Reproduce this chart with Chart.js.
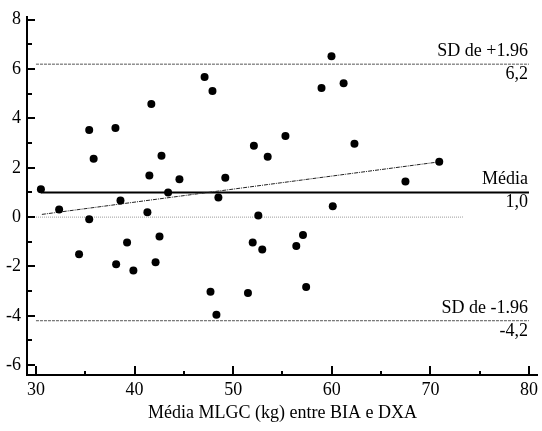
<!DOCTYPE html>
<html>
<head>
<meta charset="utf-8">
<title>Bland-Altman MLGC</title>
<script src="https://cdn.jsdelivr.net/npm/chart.js@4.4.0/dist/chart.umd.min.js"></script>
<style>
  html, body { margin: 0; padding: 0; background: #fff; }
  #wrap { width: 542px; height: 431px; position: relative; }
</style>
</head>
<body>
<div id="wrap"><canvas id="baChart"></canvas></div>
<script>
// media entre BIA e DXA (x) e diferenca (y)
const meanValues = [30.5, 32.35, 35.4, 35.85, 38.06, 41.7, 42.73, 41.5, 43.4, 38.57, 41.3, 35.4, 44.55,
  34.37, 39.24, 38.13, 39.88, 42.13, 42.53, 47.1, 47.9, 59.97, 58.96, 61.2, 55.3, 52.1, 53.5, 62.3,
  49.2, 48.5, 60.1, 52.55, 51.98, 52.95, 57.08, 56.4, 47.7, 51.5, 57.4, 48.3, 70.9, 67.47];
const diffValues = [1.13, 0.31, 3.53, 2.37, 3.61, 4.59, 2.49, 1.69, 1.0, 0.67, 0.2, -0.09, 1.53,
  -1.51, -1.03, -1.91, -2.16, -1.83, -0.79, 5.68, 5.11, 6.52, 5.23, 5.43, 3.29, 2.89, 2.45, 2.97,
  1.6, 0.8, 0.44, 0.07, -1.03, -1.31, -0.73, -1.17, -3.03, -3.08, -2.83, -3.96, 2.24, 1.44];

const xTicks = [30, 40, 50, 60, 70, 80];
const xMinorTicks = [35, 45, 55, 65, 75];
const yTicks = [-6, -4, -2, 0, 2, 4, 6, 8];
const yMinorTicks = [-5, -3, -1, 1, 3, 5, 7];

const meanDiff = 1.0;
const upperLimit = 6.2;
const lowerLimit = -4.2;
const limitRange = [30, 80];
const meanRange = [30.5, 80];
const zeroRange = [30, 73.3];
const regressionX = [30.6, 70.9];
const regressionY = [0.11, 2.24];

const upperLabels = ['SD de +1.96', '6,2'];
const meanLabels = ['Média', '1,0'];
const lowerLabels = ['SD de -1.96', '-4,2'];
const xTitle = 'Média MLGC (kg) entre BIA e DXA';

const serif = '"Liberation Serif", "Times New Roman", serif';

function hLine(value, range) {
  return range.map(x => ({ x: x, y: value }));
}

// ticks para dentro, como no original
const innerTicks = {
  id: 'innerTicks',
  afterDraw(chart) {
    const { ctx, chartArea } = chart;
    const xs = chart.scales.x;
    const ys = chart.scales.y;
    ctx.save();
    ctx.strokeStyle = '#000';
    ctx.lineWidth = 2;
    ctx.beginPath();
    yTicks.forEach(v => {
      const py = Math.round(ys.getPixelForValue(v));
      ctx.moveTo(chartArea.left, py);
      ctx.lineTo(chartArea.left + 8, py);
    });
    yMinorTicks.forEach(v => {
      const py = Math.round(ys.getPixelForValue(v));
      ctx.moveTo(chartArea.left, py);
      ctx.lineTo(chartArea.left + 5, py);
    });
    xTicks.forEach(v => {
      const px = Math.round(xs.getPixelForValue(v));
      ctx.moveTo(px, chartArea.bottom);
      ctx.lineTo(px, chartArea.bottom - 9);
    });
    xMinorTicks.forEach(v => {
      const px = Math.round(xs.getPixelForValue(v));
      ctx.moveTo(px, chartArea.bottom);
      ctx.lineTo(px, chartArea.bottom - 4);
    });
    ctx.stroke();

    // rotulos das linhas de referencia
    ctx.fillStyle = '#000';
    ctx.font = '18px ' + serif;
    ctx.textAlign = 'right';
    ctx.textBaseline = 'alphabetic';
    const tx = xs.getPixelForValue(80) - 1;
    [[upperLimit, upperLabels], [meanDiff, meanLabels], [lowerLimit, lowerLabels]].forEach(([v, txt]) => {
      const py = ys.getPixelForValue(v);
      ctx.fillText(txt[0], tx, py - 8);
      ctx.fillText(txt[1], tx, py + 15);
    });
    ctx.restore();
  }
};

Chart.defaults.color = '#000';
Chart.defaults.font.family = serif;
Chart.defaults.font.size = 18;

const ctx = document.getElementById('baChart').getContext('2d');
new Chart(ctx, {
  type: 'scatter',
  data: {
    datasets: [
      {
        label: 'zero',
        type: 'line',
        data: hLine(0, zeroRange),
        borderColor: '#9a9a9a',
        borderWidth: 1,
        borderDash: [1, 1],
        pointRadius: 0,
        order: 5
      },
      {
        label: 'SD +1.96',
        type: 'line',
        data: hLine(upperLimit, limitRange),
        borderColor: '#555',
        borderWidth: 1,
        borderDash: [3, 1],
        pointRadius: 0,
        order: 4
      },
      {
        label: 'SD -1.96',
        type: 'line',
        data: hLine(lowerLimit, limitRange),
        borderColor: '#555',
        borderWidth: 1,
        borderDash: [3, 1],
        pointRadius: 0,
        order: 4
      },
      {
        label: 'Média',
        type: 'line',
        data: hLine(meanDiff, meanRange),
        borderColor: '#000',
        borderWidth: 2,
        pointRadius: 0,
        order: 3
      },
      {
        label: 'regressão',
        type: 'line',
        data: regressionX.map((x, i) => ({ x: x, y: regressionY[i] })),
        borderColor: '#222',
        borderWidth: 1,
        borderDash: [4, 1, 1, 1],
        pointRadius: 0,
        order: 2
      },
      {
        label: 'diferença',
        data: meanValues.map((x, i) => ({ x: x, y: diffValues[i] })),
        backgroundColor: '#000',
        borderColor: '#000',
        borderWidth: 0,
        pointRadius: 4,
        order: 1
      }
    ]
  },
  options: {
    responsive: true,
    maintainAspectRatio: false,
    animation: false,
    events: [],
    layout: {
      autoPadding: false,
      padding: { top: 12, right: 1, left: 0, bottom: 0 }
    },
    plugins: {
      legend: { display: false },
      tooltip: { enabled: false }
    },
    scales: {
      x: {
        type: 'linear',
        min: 29.09,
        max: 80.9,
        grid: { display: false, drawTicks: false },
        border: { display: true, color: '#000', width: 2 },
        ticks: { padding: 4, font: { size: 18 } },
        afterBuildTicks: scale => { scale.ticks = xTicks.map(v => ({ value: v })); },
        afterFit: scale => { scale.height = 56; },
        title: {
          display: true,
          text: xTitle,
          font: { size: 18 },
          padding: { top: 0, bottom: 7 }
        }
      },
      y: {
        type: 'linear',
        min: -6.4,
        max: 8.12,
        grid: { display: false, drawTicks: false },
        border: { display: true, color: '#000', width: 2 },
        ticks: { padding: 6, font: { size: 18 } },
        afterBuildTicks: scale => { scale.ticks = yTicks.map(v => ({ value: v })); },
        afterFit: scale => { scale.width = 27; }
      }
    }
  },
  plugins: [innerTicks]
});
</script>
</body>
</html>
